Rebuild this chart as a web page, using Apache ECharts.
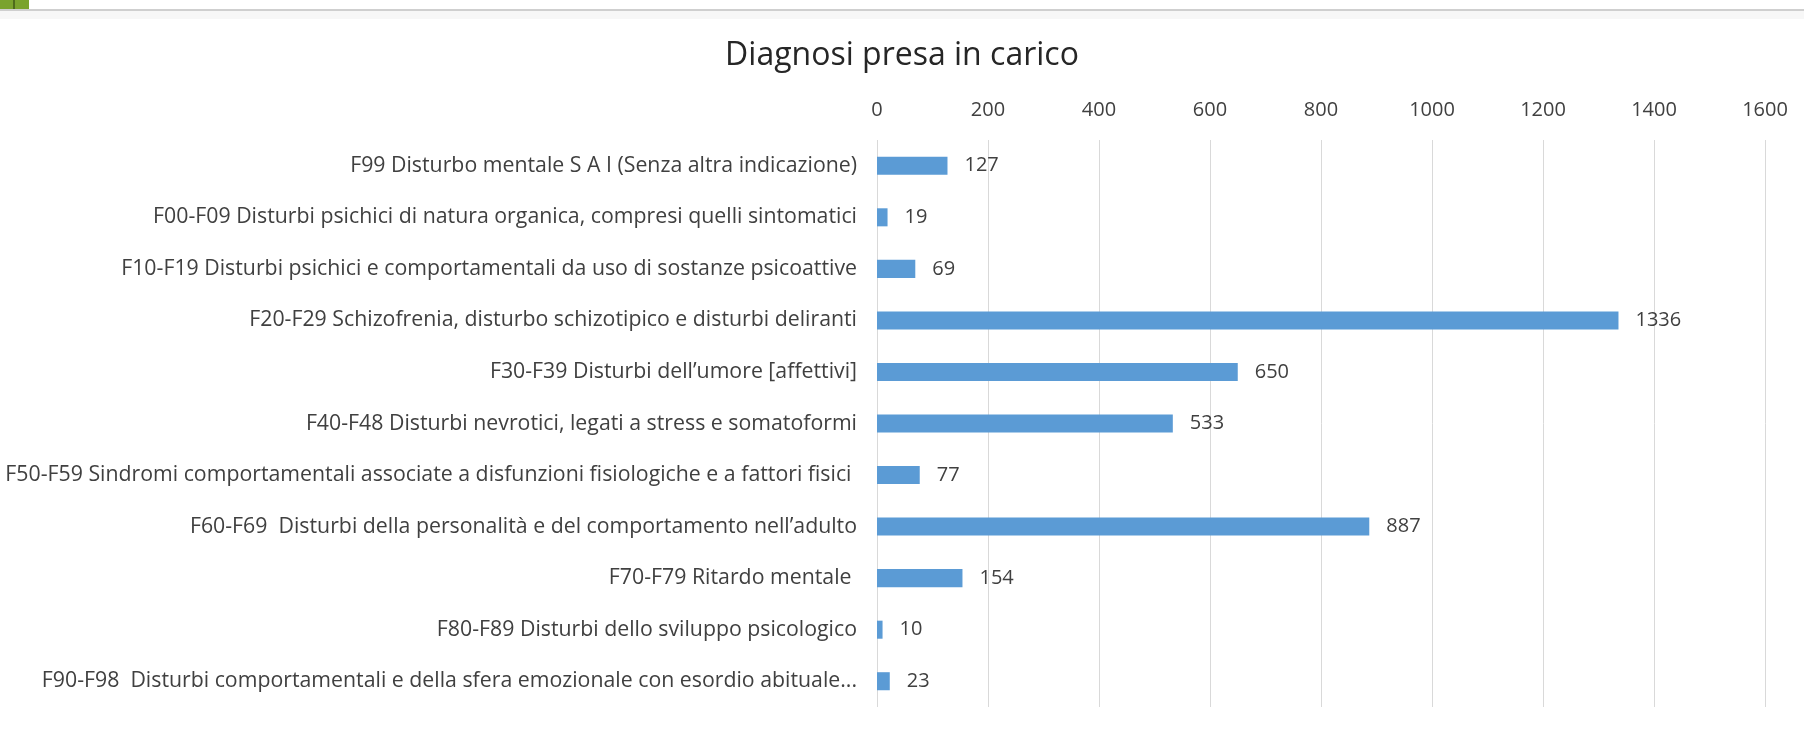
<!DOCTYPE html>
<html>
<head>
<meta charset="utf-8">
<script src="https://cdn.jsdelivr.net/npm/echarts@6/dist/echarts.min.js"></script>
<style>
  html, body { margin: 0; padding: 0; background: #fff; }
  #chart { width: 1804px; height: 731px; }
</style>
</head>
<body>
<div id="chart"></div>
<script>
const titleText = 'Diagnosi presa in carico';

const categories = [
  'F99 Disturbo mentale S A I (Senza altra indicazione)',
  'F00-F09 Disturbi psichici di natura organica, compresi quelli sintomatici',
  'F10-F19 Disturbi psichici e comportamentali da uso di sostanze psicoattive',
  'F20-F29 Schizofrenia, disturbo schizotipico e disturbi deliranti',
  'F30-F39 Disturbi dell\u2019umore [affettivi]',
  'F40-F48 Disturbi nevrotici, legati a stress e somatoformi',
  'F50-F59 Sindromi comportamentali associate a disfunzioni fisiologiche e a fattori fisici ',
  'F60-F69  Disturbi della personalit\u00e0 e del comportamento nell\u2019adulto',
  'F70-F79 Ritardo mentale ',
  'F80-F89 Disturbi dello sviluppo psicologico',
  'F90-F98  Disturbi comportamentali e della sfera emozionale con esordio abituale...'
];

const values = [127, 19, 69, 1336, 650, 533, 77, 887, 154, 10, 23];

const axisMin = 0;
const axisMax = 1600;
const axisStep = 200;

const font = 'Open Sans';
const textColor = '#404040';

const chart = echarts.init(document.getElementById('chart'));

chart.setOption({
  animation: false,
  backgroundColor: '#fff',
  title: {
    text: titleText,
    left: 'center',
    top: 35,
    textStyle: {
      fontFamily: font,
      fontSize: 32,
      fontWeight: 'normal',
      color: '#262626'
    }
  },
  graphic: [
    {
      type: 'rect',
      shape: { x: 0, y: 0, width: 29, height: 9 },
      style: { fill: '#7aa32e' }
    },
    {
      type: 'rect',
      shape: { x: 13, y: 0, width: 2, height: 9 },
      style: { fill: '#4e6b1c' }
    },
    {
      type: 'rect',
      shape: { x: 0, y: 9, width: 1804, height: 2 },
      style: { fill: '#cfcfcf' }
    },
    {
      type: 'rect',
      shape: { x: 0, y: 11, width: 1804, height: 8 },
      style: { fill: '#f7f7f7' }
    }
  ],
  grid: {
    left: 877,
    right: 39,
    top: 140,
    bottom: 24,
    containLabel: false
  },
  xAxis: {
    type: 'value',
    position: 'top',
    min: axisMin,
    max: axisMax,
    interval: axisStep,
    axisLine: { show: false },
    axisTick: { show: false },
    axisLabel: {
      margin: 20,
      fontFamily: font,
      fontSize: 20,
      color: textColor,
      formatter: function (v) { return String(v); }
    },
    splitLine: {
      show: true,
      lineStyle: { color: '#d9d9d9', width: 1 }
    }
  },
  yAxis: {
    type: 'category',
    inverse: true,
    data: categories,
    axisLine: { show: false },
    axisTick: { show: false },
    axisLabel: {
      margin: 20,
      fontFamily: font,
      fontSize: 21.3,
      color: textColor
    }
  },
  series: [
    {
      type: 'bar',
      data: values,
      barCategoryGap: '65%',
      itemStyle: { color: '#5b9bd5' },
      label: {
        show: true,
        position: 'right',
        distance: 17,
        fontFamily: font,
        fontSize: 20,
        color: textColor
      }
    }
  ]
});
</script>
</body>
</html>
